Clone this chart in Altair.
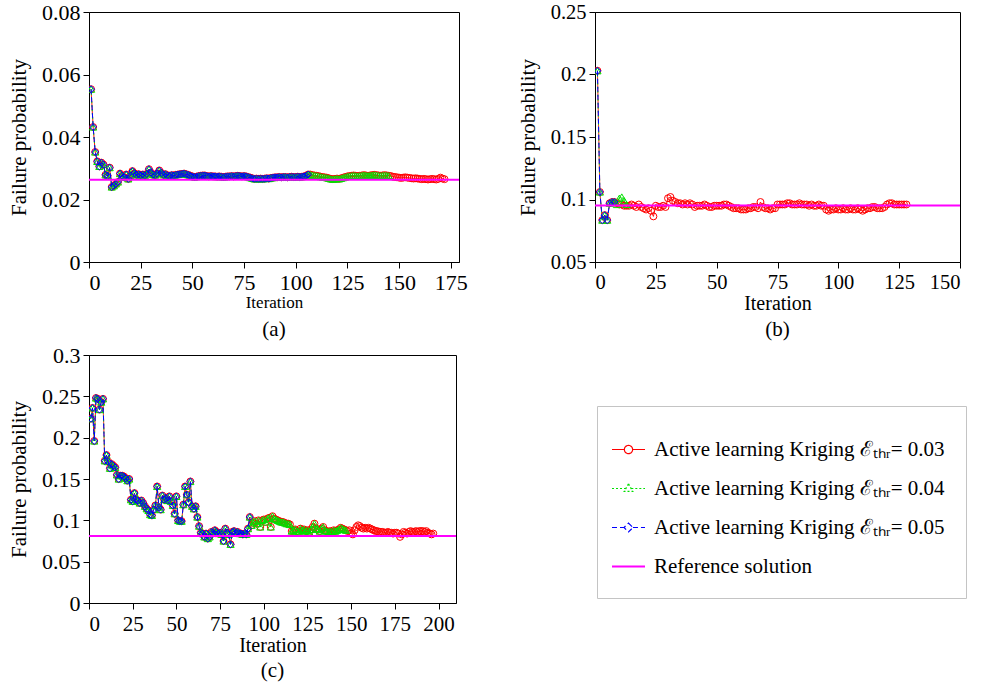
import altair as alt
import pandas as pd

S1 = "Active learning Kriging ℰₜₕᵣ= 0.03"
S2 = "Active learning Kriging ℰₜₕᵣ= 0.04"
S3 = "Active learning Kriging ℰₜₕᵣ= 0.05"
REF = "Reference solution"
SERIES = [S1, S2, S3, REF]
COLORS = ["#ff0000", "#00e000", "#0000ff", "#ff00ff"]

# ---------------- panel (a) ----------------
a_common = [
    0.0553, 0.0432, 0.0352, 0.0322, 0.0306, 0.0318, 0.0312, 0.0279, 0.0276, 0.0302,
    0.0240, 0.0244, 0.0250, 0.0256, 0.0283, 0.0276, 0.0271, 0.0280, 0.0266, 0.0276,
    0.0291, 0.0284, 0.0279, 0.0281, 0.0278, 0.0280, 0.0277, 0.0282, 0.0297, 0.0286,
    0.0280, 0.0278, 0.0283, 0.0293, 0.0285, 0.0279, 0.0281, 0.0277, 0.0276, 0.0278,
    0.0277, 0.0279, 0.0280, 0.0281, 0.0282, 0.0283, 0.0281, 0.0279, 0.0276, 0.0274,
    0.0272, 0.0273, 0.0275, 0.0276, 0.0277, 0.0277, 0.0275, 0.0274, 0.0275, 0.0274,
    0.0274, 0.0273, 0.0274, 0.0273, 0.0272, 0.0273, 0.0274, 0.0274, 0.0275, 0.0274,
    0.0275, 0.0276, 0.0275, 0.0274, 0.0275, 0.0274, 0.0272, 0.0270, 0.0268, 0.0266,
    0.0267, 0.0266, 0.0267, 0.0266, 0.0267, 0.0268, 0.0267, 0.0269, 0.0270, 0.0271,
    0.0271, 0.0272, 0.0271, 0.0272, 0.0272, 0.0271, 0.0272, 0.0273, 0.0272, 0.0272,
    0.0273, 0.0272, 0.0273, 0.0274, 0.0276, 0.0280,
]
a_green_tail = [
    0.0280, 0.0278, 0.0277, 0.0276, 0.0275, 0.0273, 0.0272, 0.0271, 0.0270, 0.0268,
    0.0266, 0.0265, 0.0266, 0.0267, 0.0266, 0.0268, 0.0270, 0.0272, 0.0274, 0.0275,
    0.0276, 0.0277, 0.0276, 0.0275, 0.0276, 0.0277, 0.0278, 0.0277, 0.0276, 0.0277,
    0.0278, 0.0279, 0.0278, 0.0277, 0.0276, 0.0277, 0.0278, 0.0277, 0.0276,
]
a_red_tail = [
    0.0275, 0.0273, 0.0272, 0.0271, 0.0270, 0.0269, 0.0270, 0.0271, 0.0270, 0.0269,
    0.0268, 0.0267, 0.0268, 0.0267, 0.0266, 0.0265, 0.0266, 0.0265, 0.0264, 0.0265,
    0.0266, 0.0265, 0.0264, 0.0266, 0.0270, 0.0267, 0.0265,
]
a_ref = 0.0263

# ---------------- panel (b) ----------------
b_common = [0.203, 0.106, 0.0835, 0.0875, 0.0835, 0.097, 0.098, 0.098]
b_green_tail = [0.096, 0.101, 0.102, 0.099, 0.096]
b_red_tail = [
    0.097, 0.096, 0.096, 0.095, 0.095, 0.095, 0.096, 0.095, 0.094, 0.096,
    0.094, 0.093, 0.092, 0.093, 0.091, 0.0865, 0.095, 0.094, 0.094, 0.095,
    0.094, 0.101, 0.102, 0.099, 0.098, 0.097, 0.097, 0.096, 0.097, 0.096,
    0.097, 0.096, 0.094, 0.095, 0.095, 0.095, 0.096, 0.095, 0.094, 0.094,
    0.095, 0.095, 0.095, 0.095, 0.096, 0.096, 0.095, 0.094, 0.093, 0.093,
    0.093, 0.092, 0.092, 0.092, 0.093, 0.093, 0.094, 0.094, 0.093, 0.098,
    0.094, 0.093, 0.093, 0.092, 0.093, 0.093, 0.096, 0.096, 0.096, 0.096,
    0.097, 0.097, 0.096, 0.096, 0.096, 0.097, 0.096, 0.096, 0.096, 0.095,
    0.096, 0.095, 0.095, 0.096, 0.095, 0.095, 0.092, 0.091, 0.092, 0.092,
    0.093, 0.092, 0.092, 0.093, 0.092, 0.092, 0.093, 0.092, 0.092, 0.093,
    0.092, 0.091, 0.092, 0.093, 0.093, 0.094, 0.094, 0.093, 0.093, 0.093,
    0.094, 0.096, 0.097, 0.097, 0.096, 0.096, 0.096, 0.096, 0.096, 0.096,
]
b_ref = 0.0953

# ---------------- panel (c) ----------------
c_common = [
    0.223, 0.236, 0.196, 0.248, 0.247, 0.234, 0.243, 0.247, 0.172, 0.179,
    0.171, 0.163, 0.168, 0.166, 0.164, 0.155, 0.150, 0.154, 0.154, 0.153,
    0.151, 0.148, 0.150, 0.125, 0.123, 0.133, 0.125, 0.124, 0.121, 0.124,
    0.121, 0.117, 0.114, 0.112, 0.107, 0.106, 0.113, 0.118, 0.141, 0.116,
    0.113, 0.130, 0.125, 0.127, 0.124, 0.129, 0.123, 0.118, 0.108, 0.129,
    0.100, 0.099, 0.099, 0.119, 0.141, 0.131, 0.122, 0.147, 0.117, 0.114,
    0.117, 0.104, 0.093, 0.085, 0.084, 0.080, 0.084, 0.078, 0.080, 0.086,
    0.085, 0.088, 0.086, 0.084, 0.085, 0.083, 0.075, 0.090, 0.085, 0.083,
    0.071, 0.086, 0.087, 0.085, 0.086, 0.084, 0.084, 0.083, 0.084, 0.083,
    0.090, 0.104,
]
c_green_tail = [
    0.094, 0.097, 0.099, 0.096, 0.100, 0.092, 0.100, 0.101, 0.098, 0.102,
    0.103, 0.092, 0.105, 0.102, 0.101, 0.100, 0.099, 0.098, 0.098, 0.097,
    0.096, 0.096, 0.095, 0.087, 0.088, 0.089, 0.087, 0.086, 0.090, 0.088,
    0.089, 0.087, 0.088, 0.086, 0.089, 0.092, 0.096, 0.090, 0.089, 0.087,
    0.090, 0.092, 0.088, 0.087, 0.086, 0.087, 0.086, 0.088, 0.087, 0.088,
    0.089, 0.091, 0.090, 0.089, 0.088,
]
c_red_tail = [
    0.087, 0.088, 0.084, 0.083, 0.088, 0.092, 0.094, 0.093, 0.091, 0.090,
    0.091, 0.090, 0.091, 0.090, 0.089, 0.088, 0.087, 0.087, 0.086, 0.086,
    0.086, 0.085, 0.085, 0.086, 0.085, 0.085, 0.084, 0.085, 0.085, 0.084,
    0.080, 0.083, 0.086, 0.085, 0.084, 0.086, 0.087, 0.086, 0.086, 0.087,
    0.086, 0.087, 0.087, 0.087, 0.086, 0.087, 0.085, 0.084, 0.083, 0.084,
]
c_ref = 0.081

FONT = "Liberation Serif"

# legend symbol paths (line + marker)
P_CIRC = "M-1,0L-0.25,0M0.25,0L1,0M0.25,0A0.25,0.25,0,1,1,-0.25,0A0.25,0.25,0,1,1,0.25,0"
P_TRI = "M-1,0L-0.17,0M0.17,0L1,0M0,-0.28L0.26,0.18L-0.26,0.18Z"
P_DIA = "M-1,0L-0.27,0M0.27,0L1,0M0,-0.27L0.27,0L0,0.27L-0.27,0Z"
P_LINE = "M-1,0L1,0"

shape_expr = (
    f"datum.value === '{S1}' ? '{P_CIRC}' : datum.value === '{S2}' ? '{P_TRI}' : "
    f"datum.value === '{S3}' ? '{P_DIA}' : '{P_LINE}'"
)
dash_expr = (
    f"datum.value === '{S2}' ? [2, 2] : datum.value === '{S3}' ? [5, 3] : [1, 0]"
)
width_expr = f"datum.value === '{REF}' ? 2 : 1.2"

LEGEND = alt.Legend(
    orient="none",
    legendX=508,
    legendY=394,
    symbolType={"expr": shape_expr},
    symbolDash={"expr": dash_expr},
    symbolStrokeWidth={"expr": width_expr},
    symbolFillColor="transparent",
    symbolSize=1089,
    labelFont=FONT,
    labelFontSize=21,
    labelColor="black",
    labelLimit=0,
    labelOffset=15,
    titleFontSize=10,
    titlePadding=2,
    titleColor="white",
    padding=21,
    rowPadding=17,
    strokeColor="#c4c4c4",
    fillColor="white",
)

color_scale = alt.Scale(domain=SERIES, range=COLORS)

MARKERS = {S1: ("circle", [1, 0], 48), S2: ("triangle-up", [2, 2], 52), S3: ("diamond", [5, 3], 48)}


def series_df(name, vals):
    return pd.DataFrame({"it": list(range(1, len(vals) + 1)), "pf": vals, "series": [name] * len(vals)})


def panel(red, green, blue, ref, xdom, xticks, ydom, yticks, caption, w, h, xlab, ylab, xt_size,
          ytpad, cap_off):
    x = alt.X(
        "it:Q",
        scale=alt.Scale(domain=xdom, nice=False, zero=False),
        axis=alt.Axis(values=xticks, title="Iteration", titleFontSize=xt_size, labelFontSize=xlab,
                      labelPadding=4, titlePadding=1),
    )
    y = alt.Y(
        "pf:Q",
        scale=alt.Scale(domain=ydom, nice=False, zero=False),
        axis=alt.Axis(values=yticks, format="~g", title="Failure probability", titleFontSize=21,
                      labelFontSize=ylab, labelPadding=3, titlePadding=ytpad),
    )
    color = alt.Color("series:N", scale=color_scale, title=".", legend=LEGEND)
    layers = []
    for name, vals in ((S1, red), (S2, green), (S3, blue)):
        shape, dash, size = MARKERS[name]
        d = series_df(name, vals)
        base = alt.Chart(d)
        layers.append(base.mark_line(strokeWidth=1, strokeDash=dash, clip=True).encode(x=x, y=y, color=color))
        layers.append(
            base.mark_point(shape=shape, size=size, strokeWidth=1, filled=False, opacity=1, clip=True)
            .encode(x=x, y=y, color=color)
        )
    refdf = pd.DataFrame({"pf": [ref], "series": [REF]})
    layers.append(alt.Chart(refdf).mark_rule(strokeWidth=2).encode(y=alt.Y("pf:Q"), color=color))
    return alt.layer(*layers).properties(
        width=w,
        height=h,
        title=alt.TitleParams(caption, orient="bottom", fontSize=21, font=FONT, fontWeight="normal",
                              color="black", offset=cap_off),
    )


pa = panel(
    a_common + a_green_tail + a_red_tail, a_common + a_green_tail, a_common, a_ref,
    [0, 179], [0, 25, 50, 75, 100, 125, 150, 175], [0, 0.08], [0, 0.02, 0.04, 0.06, 0.08],
    "(a)", 370, 250, 22, 22, 17, 12, 9,
)
pb = panel(
    b_common + b_red_tail, b_common + b_green_tail, b_common, b_ref,
    [0, 150], [0, 25, 50, 75, 100, 125, 150], [0.05, 0.25], [0.05, 0.1, 0.15, 0.2, 0.25],
    "(b)", 365, 250, 20.5, 20.5, 20, 12, 5,
)
pc = panel(
    c_common + c_green_tail + c_red_tail, c_common + c_green_tail, c_common, c_ref,
    [0, 210], [0, 25, 50, 75, 100, 125, 150, 175, 200], [0, 0.3], [0, 0.05, 0.1, 0.15, 0.2, 0.25, 0.3],
    "(c)", 367, 248, 21, 22, 20, 12, 5,
)

chart = (
    alt.vconcat(alt.hconcat(pa, pb, spacing=48), pc, spacing=2)
    .properties(padding={"left": 8, "top": 0, "right": 0, "bottom": 0}, background="white")
    .configure_view(stroke="black", strokeWidth=1)
    .configure_axis(
        domainColor="black", tickColor="black", labelColor="black", titleColor="black",
        labelFont=FONT, titleFont=FONT, titleFontWeight="normal", grid=False, tickSize=6,
        domainWidth=1, tickWidth=1,
    )
)

chart.save("out.html", embed_options={"renderer": "svg", "actions": False})
